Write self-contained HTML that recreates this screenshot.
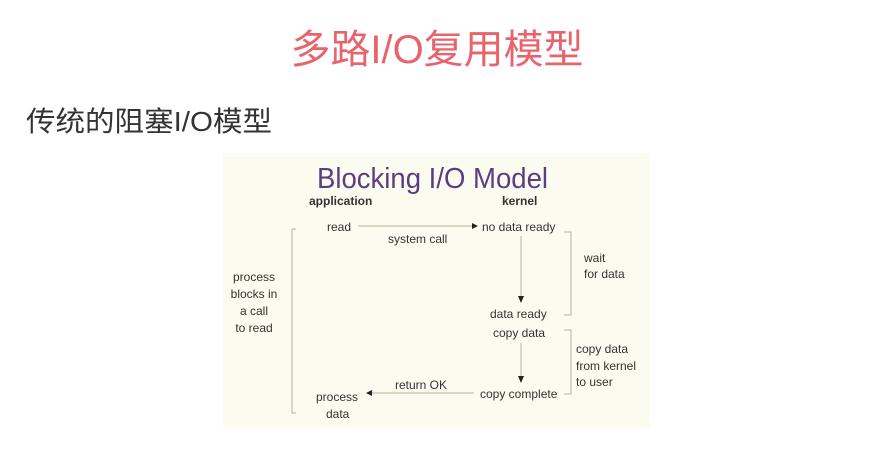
<!DOCTYPE html>
<html><head><meta charset="utf-8"><style>
html,body{margin:0;padding:0;background:#fff;width:875px;height:461px;overflow:hidden}
</style></head><body>
<svg width="875" height="461" viewBox="0 0 875 461" xmlns="http://www.w3.org/2000/svg">
<text x="437" y="63" text-anchor="middle" font-family="Liberation Sans, Noto Sans CJK SC, sans-serif" font-size="40" fill="#e8646c" textLength="293" lengthAdjust="spacingAndGlyphs">多路I/O复用模型</text>
<text x="26" y="131" font-family="Liberation Sans, Noto Sans CJK SC, sans-serif" font-size="28" fill="#333" textLength="246" lengthAdjust="spacingAndGlyphs">传统的阻塞I/O模型</text>
<rect x="223" y="153" width="427" height="275" fill="#fcfbef"/>
<g font-family="Liberation Sans, sans-serif">
<text x="317" y="188" font-size="29" fill="#5b3e82" textLength="231" lengthAdjust="spacingAndGlyphs">Blocking I/O Model</text>
<g font-size="12" font-weight="bold" fill="#333">
<text x="309" y="205">application</text>
<text x="502" y="205">kernel</text>
</g>
<g font-size="12" fill="#333">
<text x="327" y="231">read</text>
<text x="388" y="243">system call</text>
<text x="482" y="231">no data ready</text>
<text x="490" y="318">data ready</text>
<text x="493" y="337">copy data</text>
<text x="480" y="398">copy complete</text>
<text x="395" y="389">return OK</text>
<text x="316" y="401">process</text>
<text x="326" y="418">data</text>
<text x="584" y="262">wait</text>
<text x="584" y="278">for data</text>
<text x="576" y="353">copy data</text>
<text x="576" y="370">from kernel</text>
<text x="576" y="386">to user</text>
<g text-anchor="middle">
<text x="254" y="281">process</text>
<text x="254" y="298">blocks in</text>
<text x="254" y="315">a call</text>
<text x="254" y="332">to read</text>
</g>
</g>
<g stroke="#b8b49a" stroke-width="1" fill="none">
<line x1="358" y1="226" x2="472" y2="226"/>
<line x1="521" y1="236" x2="521" y2="297"/>
<line x1="521" y1="343" x2="521" y2="377"/>
<line x1="372" y1="393" x2="474" y2="393"/>
<polyline points="296,229 292,229 292,413 296,413"/>
<polyline points="564,232 571,232 571,315 564,315"/>
<polyline points="564,330 571,330 571,394 564,394"/>
</g>
<g fill="#222">
<polygon points="478,226 472,223 472,229"/>
<polygon points="521,303 518,296 524,296"/>
<polygon points="521,383 518,376 524,376"/>
<polygon points="366,393 372,390 372,396"/>
</g>
</g>
</svg>
</body></html>
